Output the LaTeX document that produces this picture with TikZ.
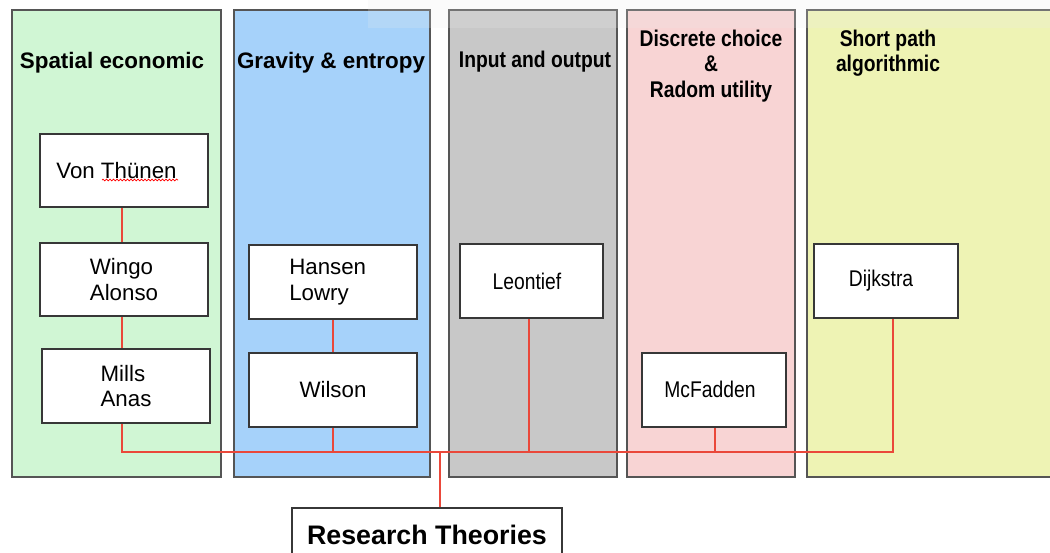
\documentclass[tikz,border=0pt]{standalone}
\usepackage{fontspec}
\usepackage{graphicx}
\setmainfont{Liberation Sans}
\usetikzlibrary{decorations.pathmorphing,calc}
\definecolor{cgreen}{RGB}{208,246,212}
\definecolor{cblue}{RGB}{166,210,250}
\definecolor{cgray}{RGB}{200,200,200}
\definecolor{cpink}{RGB}{248,212,212}
\definecolor{cyellow}{RGB}{238,243,180}
\definecolor{colborder}{RGB}{85,85,85}
\definecolor{boxborder}{RGB}{55,55,55}
\definecolor{linkred}{RGB}{234,72,58}
\definecolor{haze}{RGB}{235,235,235}
\newcommand{\sq}[1]{\scalebox{0.85}[1]{#1}}
\begin{document}
\begin{tikzpicture}[x=1pt,y=-1pt,
  col/.style={draw=colborder, line width=2pt, inner sep=0pt},
  box/.style={draw=boxborder, fill=white, line width=2pt, inner sep=0pt, align=left},
  bigtext/.style={font=\fontsize{22.3}{25.5}\selectfont},
  smalltext/.style={font=\fontsize{22.7}{25.5}\selectfont},
  ttl/.style={align=center, inner sep=0pt, font=\bfseries\fontsize{22.4}{25.5}\selectfont},
  ttlsmall/.style={align=center, inner sep=0pt, font=\bfseries\fontsize{22.7}{25.5}\selectfont},
  link/.style={draw=linkred, line width=2.6pt}]
\useasboundingbox (0,0) rectangle (1050,552);
\clip (0,0) rectangle (1050,552);
\fill[white] (0,0) rectangle (1050,552);

% columns
\node[col, fill=cgreen,  minimum width=209pt, minimum height=467pt] (c1) at (116.5,243.5) {};
\node[col, fill=cblue,   minimum width=196pt, minimum height=467pt] (c2) at (332,243.5) {};
\node[col, fill=cgray,   minimum width=168pt, minimum height=467pt] (c3) at (533,243.5) {};
\node[col, fill=cpink,   minimum width=168pt, minimum height=467pt] (c4) at (711,243.5) {};
\node[col, fill=cyellow, minimum width=253pt, minimum height=467pt] (c5) at (933.5,243.5) {};

% faint overlay at the top
\fill[haze, opacity=0.2] (368,0) rectangle (1050,28);

% titles
\node[ttl] (t1) at (112,63) {Spatial economic};
\node[ttl] (t2) at (331,63) {Gravity \& entropy};
\node[ttlsmall] (t3) at (535,62) {\sq{Input and output}};
\node[ttlsmall] (t4) at (711,66) {\sq{Discrete choice}\\\sq{\&}\\\sq{Radom utility}};
\node[ttlsmall] (t5) at (888,53) {\sq{Short path}\\\sq{algorithmic}};

% boxes
\node[box, bigtext, minimum width=168pt, minimum height=73pt] (vt) at (124,170.5) {Von Th\"unen\hspace*{15pt}};
\node[box, bigtext, minimum width=168pt, minimum height=73pt] (wa) at (124,279.5) {Wingo\\Alonso};
\node[box, bigtext, minimum width=168pt, minimum height=74pt] (ma) at (126,386) {Mills\\Anas};
\node[box, bigtext, minimum width=168pt, minimum height=74pt] (hl) at (333,282) {Hansen\\Lowry\hspace*{28pt}};
\node[box, bigtext, minimum width=168pt, minimum height=74pt] (wi) at (333,390) {Wilson};
\node[box, smalltext, minimum width=143pt, minimum height=74pt] (le) at (531.5,281) {\raisebox{-4pt}{\sq{Leontief}}\hspace*{9pt}};
\node[box, smalltext, minimum width=144pt, minimum height=74pt] (mc) at (714,390) {\raisebox{1pt}{\sq{McFadden}}\hspace*{8pt}};
\node[box, smalltext, minimum width=144pt, minimum height=74pt] (di) at (886,281) {\raisebox{2pt}{\sq{Dijkstra}}\hspace*{10pt}};

% spell-check underline
\draw[red, line width=0.7pt, decorate, decoration={snake, segment length=3.5pt, amplitude=0.9pt}]
  (102,180) -- (178,180);

% research theories
\node[draw=boxborder, fill=white, line width=2pt, inner sep=0pt,
      minimum width=270pt, minimum height=54pt,
      font=\bfseries\fontsize{26.8}{30}\selectfont] (rt) at (427,535) {Research Theories};

% bus coordinates
\coordinate (busL) at (122,452);
\coordinate (busR) at (893,452);
\coordinate (jn) at (440,452);

% connectors
\draw[link] (vt.south -| busL) -- (wa.north -| busL);
\draw[link] (wa.south -| busL) -- (ma.north -| busL);
\draw[link] (ma.south -| busL) -- (busL) -- (busR) -- (di.south -| busR);
\draw[link] (hl.south) -- (wi.north);
\draw[link] (wi.south) -- (wi.south |- busL);
\draw[link] ($(le.south)+(-2.5,0)$) -- ($(le.south |- busL)+(-2.5,0)$);
\draw[link] ($(mc.south)+(1,0)$) -- ($(mc.south |- busL)+(1,0)$);
\draw[link] (jn) -- (jn |- rt.north);
\end{tikzpicture}
\end{document}
